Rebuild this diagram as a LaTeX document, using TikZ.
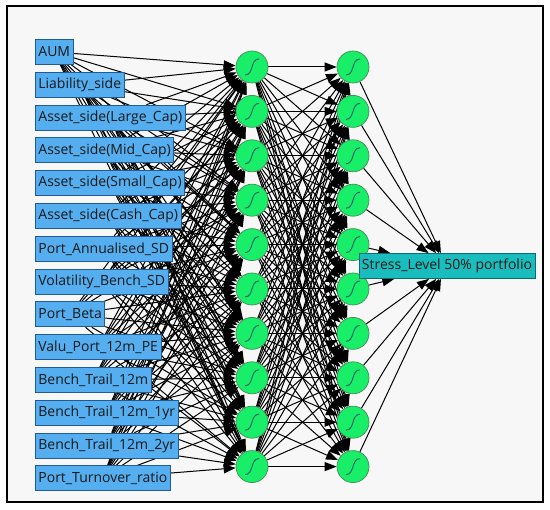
\documentclass[tikz,border=0pt]{standalone}
\usepackage{fontspec}
\setmainfont{Open Sans}
\usetikzlibrary{arrows.meta}
\definecolor{inblue}{HTML}{55AEF0}
\definecolor{inedge}{HTML}{1F5C96}
\definecolor{neugreen}{HTML}{18EE68}
\definecolor{neuedge}{HTML}{3F8F55}
\definecolor{sigteal}{HTML}{1F6A6A}
\definecolor{outteal}{HTML}{19BDBD}
\definecolor{outedge}{HTML}{0E6B6B}
\definecolor{panel}{HTML}{F7F7F7}
\pgfdeclarelayer{back}
\pgfdeclarelayer{edges}
\pgfsetlayers{back,edges,main}
\tikzset{
  inbox/.style={draw=inedge, fill=inblue, line width=0.8pt, text=black!90,
    font=\fontsize{14}{14}\selectfont, minimum height=25pt,
    inner xsep=3pt, inner ysep=0pt, anchor=west},
  neuron/.style={circle, draw=neuedge, fill=neugreen, line width=0.7pt,
    minimum size=32pt, inner sep=0pt,
    path picture={\draw[sigteal, line width=1pt, shift={(path picture bounding box.center)}]
      (-7pt,-8pt) .. controls (2pt,-8pt) and (-2pt,8pt) .. (7pt,8pt);}},
  outbox/.style={draw=outedge, fill=outteal, line width=0.8pt, text=black!90,
    font=\fontsize{14}{14}\selectfont, minimum height=25pt,
    inner xsep=3pt, inner ysep=0pt},
  wire/.style={-{Triangle[length=12pt,width=9pt]}, line width=1pt, black}
}
\begin{document}
\begin{tikzpicture}[x=1pt, y=-1pt]
	\useasboundingbox (0,0) rectangle (550,510);
	% frame
	\begin{pgfonlayer}{back}
		\fill[white] (0,0) rectangle (550,510);
		\filldraw[fill=panel, draw=black, line width=2pt] (7,6) rectangle (543,502);
	\end{pgfonlayer}
	
	% inputs
	\foreach \t [count=\i] in {AUM, Liability\_side, Asset\_side(Large\_Cap), Asset\_side(Mid\_Cap),
		Asset\_side(Small\_Cap), Asset\_side(Cash\_Cap), Port\_Annualised\_SD, Volatility\_Bench\_SD,
		Port\_Beta, Valu\_Port\_12m\_PE, Bench\_Trail\_12m, Bench\_Trail\_12m\_1yr,
		Bench\_Trail\_12m\_2yr, Port\_Turnover\_ratio}
		\node[inbox] (in\i) at (35, {52+32.8*(\i-1)}) {\t};
	
	% hidden layers
	\foreach \j in {1,...,10} {
		\node[neuron] (ha\j) at (252, {67+44.4*(\j-1)}) {};
		\node[neuron] (hb\j) at (353, {67+44.4*(\j-1)}) {};
	}
	
	% output
	\node[outbox] (out) at (447,266) {Stress\_Level 50\% portfolio};
	
	% connections
	\begin{pgfonlayer}{edges}
		\foreach \i in {1,...,14}
			\foreach \j in {1,...,10}
				\draw[wire] (in\i) -- (ha\j);
		\foreach \i in {1,...,10}
			\foreach \j in {1,...,10}
				\draw[wire] (ha\i) -- (hb\j);
		\foreach \j in {1,...,10}
			\draw[wire] (hb\j) -- (out);
	\end{pgfonlayer}
\end{tikzpicture}
\end{document}
